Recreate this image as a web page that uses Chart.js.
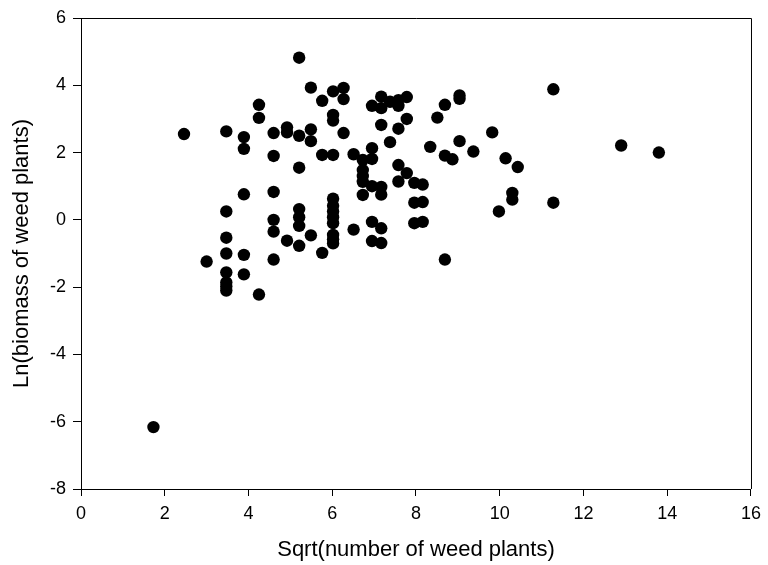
<!DOCTYPE html>
<html>
<head>
<meta charset="utf-8">
<script src="https://cdn.jsdelivr.net/npm/chart.js@4"></script>
<style>
  html, body { margin: 0; padding: 0; background: #fff; }
  #wrap { width: 768px; height: 565px; }
</style>
</head>
<body>
<div id="wrap"><canvas id="weedChart" width="768" height="565"></canvas></div>
<script>
// sqrt(number of weed plants) per plot
var sqrtPlants = [
  1.73, 2.46, 3.00,
  3.47, 3.47, 3.47, 3.47, 3.47, 3.47, 3.47, 3.47,
  3.89, 3.89, 3.89, 3.89, 3.89,
  4.25, 4.25, 4.25,
  4.60, 4.60, 4.60, 4.60, 4.60, 4.60,
  4.92, 4.92, 4.92,
  5.21, 5.21, 5.21, 5.21, 5.21, 5.21, 5.21,
  5.49, 5.49, 5.49, 5.49,
  5.76, 5.76, 5.76,
  6.02, 6.02, 6.02, 6.02, 6.02, 6.02, 6.02, 6.02, 6.02, 6.02, 6.02, 6.02,
  6.27, 6.27, 6.27,
  6.51, 6.51,
  6.73, 6.73, 6.73, 6.73, 6.73,
  6.95, 6.95, 6.95, 6.95, 6.95, 6.95,
  7.17, 7.17, 7.17, 7.17, 7.17, 7.17, 7.17,
  7.38, 7.38,
  7.58, 7.58, 7.58, 7.58, 7.58,
  7.78, 7.78, 7.78,
  7.96, 7.96, 7.96,
  8.16, 8.16, 8.16,
  8.34, 8.51,
  8.69, 8.69, 8.69,
  8.87,
  9.04, 9.04, 9.04,
  9.37, 9.82, 9.98, 10.14, 10.30, 10.30, 10.43,
  11.28, 11.28, 12.90, 13.80
];

// ln(biomass of weed plants), same order
var lnBiomass = [
  -6.16, 2.55, -1.24,
  2.63, 0.25, -0.53, -1.00, -1.56, -1.86, -1.98, -2.10,
  2.46, 2.11, 0.76, -1.04, -1.62,
  3.42, 3.03, -2.22,
  2.58, 1.90, 0.83, 0.00, -0.35, -1.18,
  2.75, 2.60, -0.62,
  4.82, 2.50, 1.55, 0.32, 0.08, -0.18, -0.77,
  3.93, 2.69, 2.34, -0.46,
  3.54, 1.93, -0.98,
  3.82, 3.12, 2.95, 1.93, 0.63, 0.42, 0.25, 0.08, -0.10, -0.45, -0.58, -0.70,
  3.92, 3.59, 2.58,
  1.95, -0.29,
  1.78, 1.48, 1.30, 1.13, 0.74,
  3.39, 2.13, 1.81, 1.00, -0.06, -0.63,
  3.66, 3.32, 2.82, 0.98, 0.75, -0.25, -0.69,
  3.51, 2.31,
  3.56, 3.39, 2.71, 1.63, 1.14,
  3.65, 3.00, 1.39,
  1.10, 0.51, -0.10,
  1.05, 0.53, -0.06,
  2.17, 3.04,
  3.42, 1.91, -1.18,
  1.80,
  3.60, 3.70, 2.34,
  2.03, 2.60, 0.25, 1.83, 0.80, 0.60, 1.57,
  3.88, 0.51, 2.21, 2.00
];

var xTitle = 'Sqrt(number of weed plants)';
var yTitle = 'Ln(biomass of weed plants)';

var points = sqrtPlants.map(function(x, i){ return {x: x, y: lnBiomass[i]}; });

var font = "'Liberation Sans', Arial, Helvetica, sans-serif";

// top and right edges of the plot frame
var frame = {
  id: 'frame',
  afterDraw: function(chart){
    var a = chart.chartArea, ctx = chart.ctx;
    ctx.save();
    ctx.strokeStyle = '#000';
    ctx.lineWidth = 1;
    ctx.beginPath();
    ctx.moveTo(a.left, a.top + 0.5);
    ctx.lineTo(a.right + 0.5, a.top + 0.5);
    ctx.lineTo(a.right + 0.5, a.bottom);
    ctx.stroke();
    ctx.restore();
  }
};

new Chart(document.getElementById('weedChart').getContext('2d'), {
  type: 'scatter',
  data: {
    datasets: [{
      data: points,
      backgroundColor: '#000',
      borderColor: '#000',
      borderWidth: 0,
      pointRadius: 6.2,
      pointHoverRadius: 6.2
    }]
  },
  options: {
    responsive: false,
    animation: false,
    layout: { padding: { left: 0, top: 18, right: 14, bottom: 0 } },
    plugins: { legend: { display: false }, tooltip: { enabled: false } },
    scales: {
      x: {
        type: 'linear',
        min: 0, max: 16,
        ticks: { stepSize: 2, color: '#000', padding: 7, font: { family: font, size: 18 } },
        grid: { drawOnChartArea: false, drawTicks: true, tickLength: 7, tickColor: '#000' },
        border: { display: true, color: '#000', width: 1 },
        title: { display: true, text: xTitle, color: '#000', font: { family: font, size: 22 }, padding: { top: 0, bottom: 2 } },
        afterFit: function(s){ s.height = 76; }
      },
      y: {
        type: 'linear',
        min: -8, max: 6,
        ticks: { stepSize: 2, color: '#000', padding: 7, font: { family: font, size: 18 } },
        grid: { drawOnChartArea: false, drawTicks: true, tickLength: 8, tickColor: '#000' },
        border: { display: true, color: '#000', width: 1 },
        title: { display: true, text: yTitle, color: '#000', font: { family: font, size: 22 }, padding: { top: 9, bottom: 0 } },
        afterFit: function(s){ s.width = 81; }
      }
    }
  },
  plugins: [frame]
});
</script>
</body>
</html>
